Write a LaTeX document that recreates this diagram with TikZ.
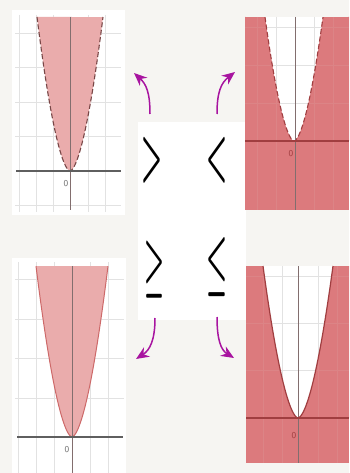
\documentclass[tikz,border=0pt]{standalone}
\usepackage{graphicx}
\usetikzlibrary{arrows.meta}
\definecolor{bgc}{RGB}{246,245,242}
\definecolor{lpink}{RGB}{234,172,172}
\definecolor{lpinkdash}{RGB}{120,70,70}
\definecolor{lpinkline}{RGB}{205,105,105}
\definecolor{dred}{RGB}{220,122,125}
\definecolor{dredline}{RGB}{160,62,64}
\definecolor{gridc}{RGB}{226,226,226}
\definecolor{mag}{RGB}{168,20,160}
\definecolor{axisg}{RGB}{95,95,95}
\definecolor{axisv}{RGB}{130,110,110}
\definecolor{zerog}{RGB}{110,110,110}
\begin{document}
\begin{tikzpicture}[x=1pt,y=-1pt,
  gridline/.style={gridc, line width=0.8pt},
  xaxgray/.style={axisg, line width=2.6pt},
  xaxred/.style={dredline, line width=1.6pt},
  yax/.style={axisv, line width=1pt},
  dashbound/.style={lpinkdash, line width=1.1pt, dash pattern=on 5pt off 2.5pt},
  dashboundred/.style={dredline, line width=1.1pt, dash pattern=on 5pt off 2.5pt},
  solidpink/.style={lpinkline, line width=1pt},
  solidred/.style={dredline, line width=1.2pt},
  zero/.style={text=zerog, font=\sffamily\fontsize{9}{9}\selectfont, inner sep=0pt},
  sym/.style={inner sep=0pt, text=black, font=\boldmath},
  marrow/.style={mag, line width=1.5pt, -{Stealth[length=13pt,width=11pt]}}]
\useasboundingbox (0,0) rectangle (349,473);
\fill[bgc] (0,0) rectangle (349,473);
\fill[white] (138,122) rectangle (246,320);
% ---------- top-left panel ----------
\fill[white] (12,10) rectangle (125,215);
\foreach \yy in {33,67.5,102,136.5,205.5} \draw[gridline] (15,\yy) -- (121,\yy);
\foreach \xx in {19.25,36.5,53.75,88.25,105.5} \draw[gridline] (\xx,15) -- (\xx,212);
\fill[lpink] plot[domain=-33:33,samples=61] ({70+\x},{171-0.4037*(abs(\x)+0.001)^1.7}) -- cycle;
\draw[dashbound] plot[domain=-33:33,samples=61] ({70+\x},{171-0.4037*(abs(\x)+0.001)^1.7});
\draw[yax] (70,17) -- (70,210);
\draw[xaxgray] (16,171) -- (121,171);
\node[zero] (z1) at (66,184) {0};
% ---------- top-right panel ----------
\fill[dred] (245,17) rectangle (349,210);
\fill[white] plot[domain=-29:29,samples=61] ({294+\x},{141-0.4047*(abs(\x)+0.001)^1.7}) -- cycle;
\foreach \yy in {27,65,103} \draw[gridline] (245,\yy) -- (349,\yy);
\foreach \xx in {257,276,314,333} \draw[gridline] (\xx,17) -- (\xx,210);
\fill[dred, opacity=0.9] (245,141) rectangle (349,210);
\fill[dred, opacity=0.9] (245,17) -- plot[domain=-29:0,samples=40] ({294+\x},{141-0.4047*(abs(\x)+0.001)^1.7}) -- (245,141) -- cycle;
\fill[dred, opacity=0.9] (349,17) -- plot[domain=29:0,samples=40] ({294+\x},{141-0.4047*(abs(\x)+0.001)^1.7}) -- (349,141) -- cycle;
\draw[dashboundred] plot[domain=-29:29,samples=61] ({294+\x},{141-0.4047*(abs(\x)+0.001)^1.7});
\draw[yax] (295,17) -- (295,210);
\draw[xaxred] (245,141) -- (349,141);
\node[zero, text=dredline] (z2) at (291,154) {0};
% ---------- bottom-left panel ----------
\fill[white] (12,258) rectangle (126,473);
\foreach \yy in {279.5,319,358.5,398} \draw[gridline] (15,\yy) -- (124,\yy);
\foreach \xx in {18,36,54,90,108} \draw[gridline] (\xx,262) -- (\xx,473);
\fill[lpink] plot[domain=-36:36,samples=61] ({72+\x},{437-0.3865*(abs(\x)+0.001)^1.7}) -- cycle;
\draw[solidpink] plot[domain=-36:36,samples=61] ({72+\x},{437-0.3865*(abs(\x)+0.001)^1.7});
\draw[yax] (72,266) -- (72,473);
\draw[xaxgray] (17,437) -- (123,437);
\node[zero] (z3) at (67,450) {0};
% ---------- bottom-right panel ----------
\fill[dred] (246,266) rectangle (349,463);
\fill[white] plot[domain=-35:35,samples=61] ({298+\x},{418-0.3605*(abs(\x)+0.001)^1.7}) -- cycle;
\foreach \yy in {276,323,370} \draw[gridline] (246,\yy) -- (349,\yy);
\foreach \xx in {263,282,318,337} \draw[gridline] (\xx,266) -- (\xx,463);
\fill[dred, opacity=0.9] (246,418) rectangle (349,463);
\fill[dred, opacity=0.9] (246,266) -- plot[domain=-35:0,samples=40] ({298+\x},{418-0.3605*(abs(\x)+0.001)^1.7}) -- (246,418) -- cycle;
\fill[dred, opacity=0.9] (349,266) -- plot[domain=35:0,samples=40] ({298+\x},{418-0.3605*(abs(\x)+0.001)^1.7}) -- (349,418) -- cycle;
\draw[solidred] plot[domain=-35:35,samples=61] ({298+\x},{418-0.3605*(abs(\x)+0.001)^1.7});
\draw[yax] (298,266) -- (298,463);
\draw[xaxred] (246,418) -- (349,418);
\node[zero, text=dredline] (z4) at (294,436) {0};
% ---------- symbols ----------
\node[sym] (gt) at (152,160) {\resizebox*{21pt}{46pt}{$>$}};
\node[sym] (lt) at (217,160) {\resizebox*{21pt}{46pt}{$<$}};
\node[sym] (ge) at (154,270) {\resizebox*{20pt}{57pt}{$\geq$}};
\node[sym] (le) at (217,267) {\resizebox*{21pt}{59pt}{$\leq$}};
% ---------- arrows ----------
\coordinate (a1t) at (150,114); \coordinate (a1h) at (134,73);
\coordinate (a2t) at (217,114); \coordinate (a2h) at (235,72);
\coordinate (a3t) at (155,318); \coordinate (a3h) at (136,359);
\coordinate (a4t) at (217,317); \coordinate (a4h) at (234,358);
\draw[marrow] (a1t) .. controls (150,92) and (146,84) .. (a1h);
\draw[marrow] (a2t) .. controls (217,92) and (221,83) .. (a2h);
\draw[marrow] (a3t) .. controls (155,340) and (150,350) .. (a3h);
\draw[marrow] (a4t) .. controls (217,340) and (221,350) .. (a4h);
\end{tikzpicture}
\end{document}
